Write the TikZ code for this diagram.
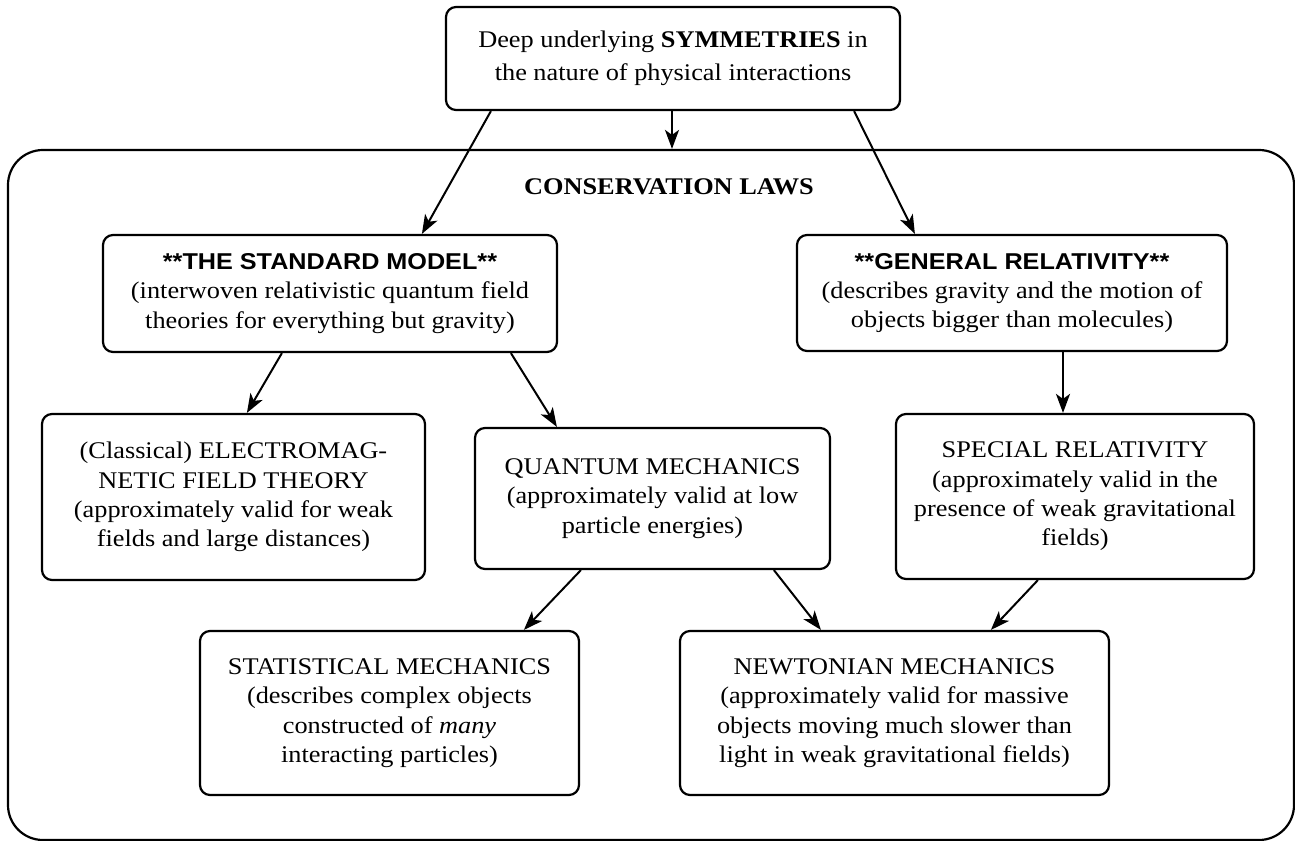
\documentclass[tikz,border=0pt]{standalone}
\usepackage{fontspec}
\setmainfont{Liberation Serif}[FakeStretch=1.1]
\setsansfont{Liberation Sans}[FakeStretch=1.1]
\usetikzlibrary{arrows.meta,calc}
\begin{document}
\begin{tikzpicture}[x=1bp,y=-1bp,
  txt/.style={font=\fontsize{24}{29.5}\selectfont},
  box/.style={draw, line width=2.2bp, rounded corners=10bp, align=center, inner sep=0pt, txt},
  arr/.style={line width=2bp, -{Stealth[length=19bp,width=14bp,inset=5bp]}},
]
\useasboundingbox (0,0) rectangle (1295,841);
\node[draw, line width=2.2bp, rounded corners=35bp, minimum width=1286bp, minimum height=690bp, inner sep=0pt] (cont) at (651,495) {};
\node[font=\fontsize{24}{29.5}\selectfont\bfseries] (cons) at (669,187) {CONSERVATION LAWS};
\node[box, font=\fontsize{24}{33}\selectfont, minimum width=454bp, minimum height=103bp] (top) at (673,58.5) {Deep underlying \textbf{SYMMETRIES} in\\the nature of physical interactions};
\node[box, minimum width=454bp, minimum height=117bp] (sm) at (330,293.5) {{\sffamily\bfseries\fontsize{23}{29.5}\selectfont **THE STANDARD MODEL**}\\(interwoven relativistic quantum field\\theories for everything but gravity)};
\node[box, minimum width=430bp, minimum height=116bp] (gr) at (1012,293) {{\sffamily\bfseries\fontsize{23}{29.5}\selectfont **GENERAL RELATIVITY**}\\(describes gravity and the motion of\\objects bigger than molecules)};
\node[box, minimum width=383bp, minimum height=166bp] (em) at (233.5,497) {(Classical) ELECTROMAG-\\NETIC FIELD THEORY\\(approximately valid for weak\\fields and large distances)};
\node[box, minimum width=355bp, minimum height=141bp] (qm) at (652.5,498.5) {QUANTUM MECHANICS\\(approximately valid at low\\particle energies)};
\node[box, minimum width=358bp, minimum height=165bp] (sr) at (1075,496.5) {SPECIAL RELATIVITY\\(approximately valid in the\\presence of weak gravitational\\fields)};
\node[box, minimum width=379bp, minimum height=164bp] (stat) at (389.5,713) {STATISTICAL MECHANICS\\(describes complex objects\\constructed of \textit{many}\\interacting particles)};
\node[box, minimum width=429bp, minimum height=164bp] (newt) at (894.5,713) {NEWTONIAN MECHANICS\\(approximately valid for massive\\objects moving much slower than\\light in weak gravitational fields)};
\draw[arr] ([xshift=46bp]top.south west) -- ([xshift=320bp]sm.north west);
\draw[arr] ([xshift=-1bp]top.south) -- ([xshift=-1bp]top.south |- cont.north);
\draw[arr] ([xshift=-47bp]top.south east) -- ([xshift=119bp]gr.north west);
\draw[arr] ([xshift=180bp]sm.south west) -- ([xshift=206bp]em.north west);
\draw[arr] ([xshift=409bp]sm.south west) -- ([xshift=83bp]qm.north west);
\draw[arr] ([xshift=51bp]gr.south) -- ([xshift=51bp]gr.south |- sr.north);
\draw[arr] ([xshift=107bp]qm.south west) -- ([xshift=325bp]stat.north west);
\draw[arr] ([xshift=300bp]qm.south west) -- ([xshift=142bp]newt.north west);
\draw[arr] ([xshift=143bp]sr.south west) -- ([xshift=312bp]newt.north west);
\end{tikzpicture}
\end{document}
